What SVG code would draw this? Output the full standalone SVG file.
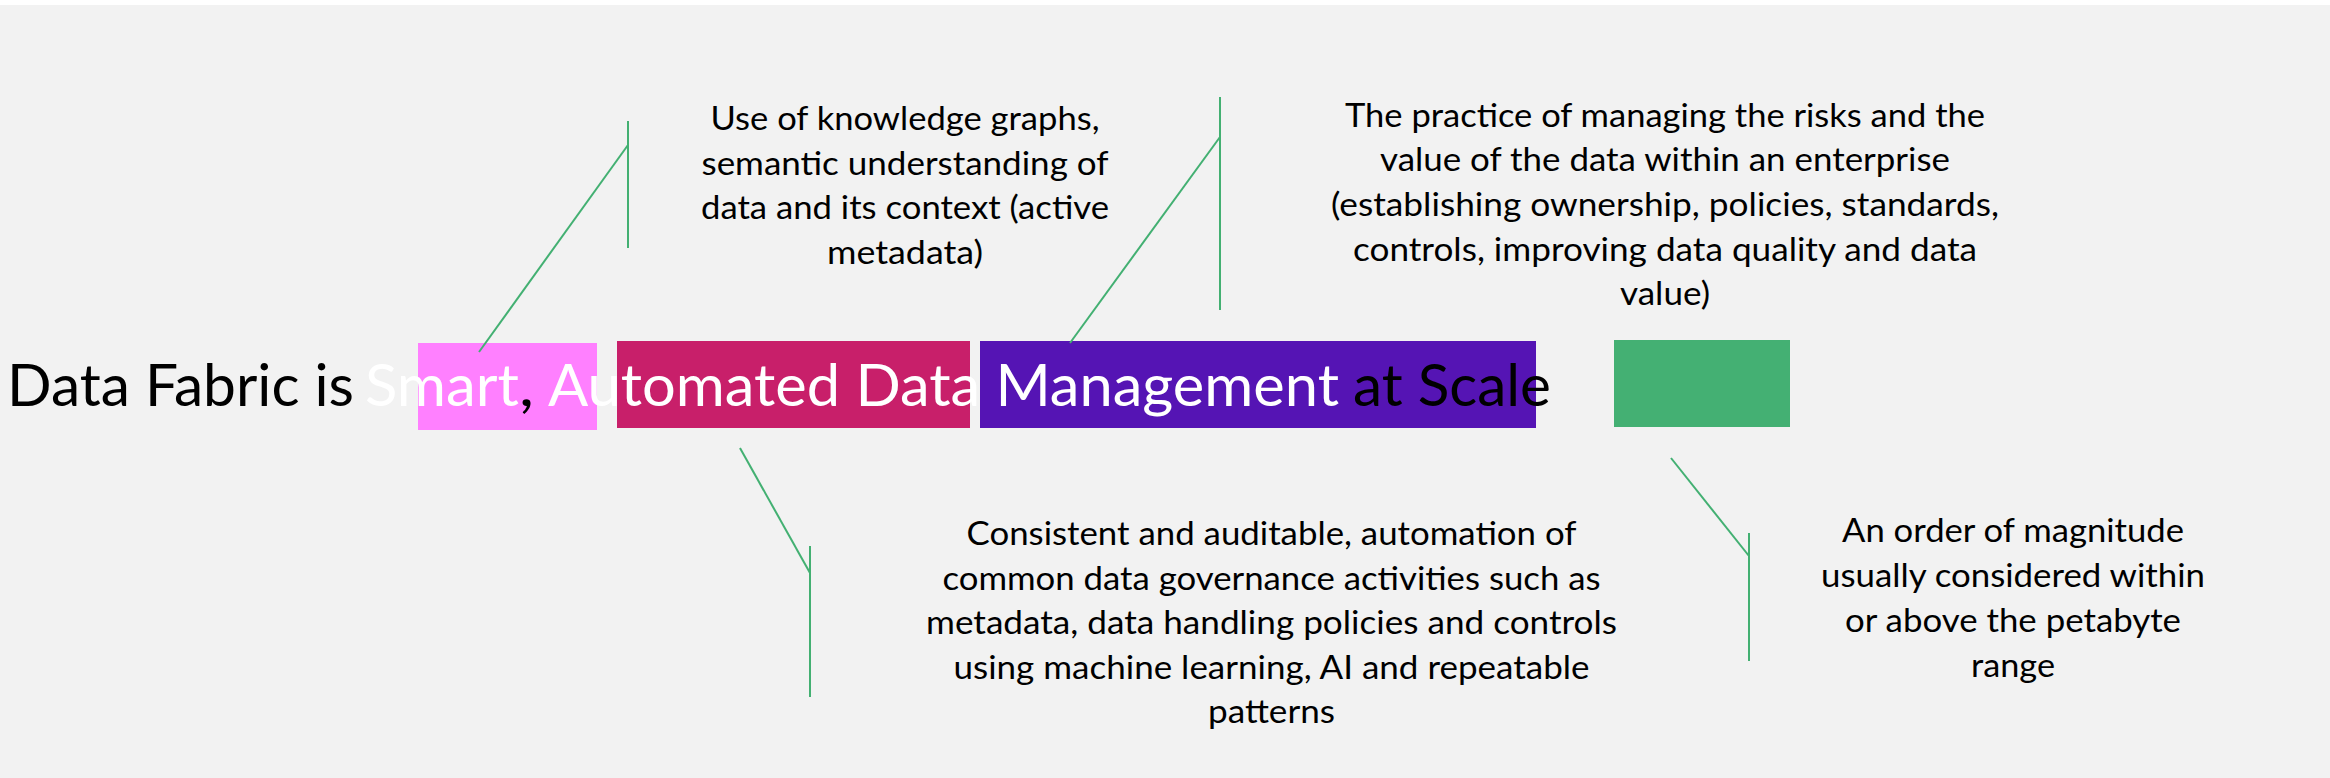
<svg xmlns="http://www.w3.org/2000/svg" width="2330" height="778" viewBox="0 0 2330 778">
<style>
.bg{fill:#F2F2F2}
.t{font-family:Lato,"Open Sans","Liberation Sans",sans-serif}
.title{font-size:58px}
.note{font-size:33px;fill:#000;text-anchor:middle}
.w{fill:#FFFFFF}
.k{fill:#000000}
.conn line{stroke:#43B072;stroke-width:2;fill:none}
</style>
<rect x="0" y="0" width="2330" height="778" fill="#FFFFFF"/>
<rect class="bg" x="0" y="5" width="2330" height="773"/>
<g id="blocks">
<rect id="smart-block" x="418" y="343" width="179" height="87" fill="#FF80FF"/>
<rect id="automated-block" x="617" y="341" width="353" height="87" fill="#C81F6A"/>
<rect id="management-block" x="980" y="341" width="556" height="87" fill="#5514B4"/>
<rect id="scale-block" x="1614" y="340" width="176" height="87" fill="#44B073"/>
</g>
<g id="title">
<text class="t title" y="406">
<tspan class="k" x="7" textLength="347" lengthAdjust="spacingAndGlyphs">Data Fabric is</tspan>
<tspan class="w" x="365" textLength="154" lengthAdjust="spacingAndGlyphs">Smart</tspan>
<tspan class="k" x="519" textLength="15" lengthAdjust="spacingAndGlyphs">,</tspan>
<tspan class="w" x="548" textLength="791" lengthAdjust="spacingAndGlyphs">Automated Data Management</tspan>
<tspan class="k" x="1353" textLength="198" lengthAdjust="spacingAndGlyphs">at Scale</tspan>
</text>
</g>
<g id="note-smart">
<text class="t note" x="905" y="130" textLength="389" lengthAdjust="spacingAndGlyphs">Use of knowledge graphs,</text>
<text class="t note" x="905" y="174.5" textLength="407" lengthAdjust="spacingAndGlyphs">semantic understanding of</text>
<text class="t note" x="905" y="219" textLength="408" lengthAdjust="spacingAndGlyphs">data and its context (active</text>
<text class="t note" x="905" y="264" textLength="156" lengthAdjust="spacingAndGlyphs">metadata)</text>
</g>
<g id="note-management">
<text class="t note" x="1665" y="126.5" textLength="640" lengthAdjust="spacingAndGlyphs">The practice of managing the risks and the</text>
<text class="t note" x="1665" y="171" textLength="570" lengthAdjust="spacingAndGlyphs">value of the data within an enterprise</text>
<text class="t note" x="1665" y="216" textLength="668" lengthAdjust="spacingAndGlyphs">(establishing ownership, policies, standards,</text>
<text class="t note" x="1665" y="260.5" textLength="624" lengthAdjust="spacingAndGlyphs">controls, improving data quality and data</text>
<text class="t note" x="1665" y="305" textLength="90" lengthAdjust="spacingAndGlyphs">value)</text>
</g>
<g id="note-automated">
<text class="t note" x="1271.5" y="545" textLength="610" lengthAdjust="spacingAndGlyphs">Consistent and auditable, automation of</text>
<text class="t note" x="1271.5" y="589.5" textLength="658" lengthAdjust="spacingAndGlyphs">common data governance activities such as</text>
<text class="t note" x="1271.5" y="634" textLength="691" lengthAdjust="spacingAndGlyphs">metadata, data handling policies and controls</text>
<text class="t note" x="1271.5" y="678.5" textLength="636" lengthAdjust="spacingAndGlyphs">using machine learning, AI and repeatable</text>
<text class="t note" x="1271.5" y="723" textLength="127" lengthAdjust="spacingAndGlyphs">patterns</text>
</g>
<g id="note-scale">
<text class="t note" x="2013" y="542" textLength="342" lengthAdjust="spacingAndGlyphs">An order of magnitude</text>
<text class="t note" x="2013" y="587" textLength="384" lengthAdjust="spacingAndGlyphs">usually considered within</text>
<text class="t note" x="2013" y="632" textLength="336" lengthAdjust="spacingAndGlyphs">or above the petabyte</text>
<text class="t note" x="2013" y="677" textLength="84" lengthAdjust="spacingAndGlyphs">range</text>
</g>
<g id="connectors" class="conn">
<line x1="479" y1="352" x2="628" y2="145"/>
<line x1="628" y1="121" x2="628" y2="248"/>
<line x1="1070" y1="343" x2="1220" y2="137"/>
<line x1="1220" y1="97" x2="1220" y2="310"/>
<line x1="740" y1="448" x2="810" y2="573"/>
<line x1="810" y1="546" x2="810" y2="697"/>
<line x1="1671" y1="458" x2="1749" y2="556"/>
<line x1="1749" y1="533" x2="1749" y2="661"/>
</g>
</svg>
